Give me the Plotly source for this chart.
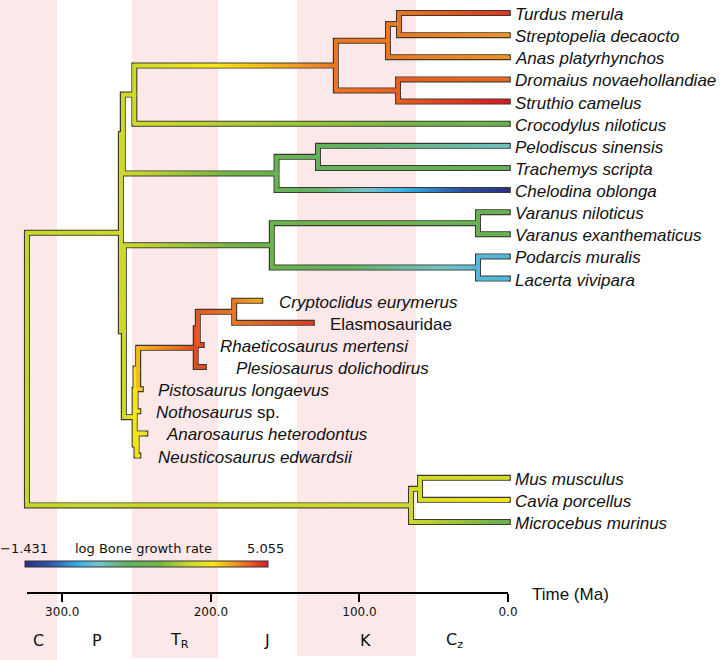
import numpy as np
import plotly.graph_objects as go

# ---------------- data ----------------
tip_names = [
    "Turdus merula", "Streptopelia decaocto", "Anas platyrhynchos",
    "Dromaius novaehollandiae", "Struthio camelus", "Crocodylus niloticus",
    "Pelodiscus sinensis", "Trachemys scripta", "Chelodina oblonga",
    "Varanus niloticus", "Varanus exanthematicus", "Podarcis muralis",
    "Lacerta vivipara", "Cryptoclidus eurymerus", "Elasmosauridae",
    "Rhaeticosaurus mertensi", "Plesiosaurus dolichodirus", "Pistosaurus longaevus",
    "Nothosaurus sp.", "Anarosaurus heterodontus", "Neusticosaurus edwardsii",
    "Mus musculus", "Cavia porcellus", "Microcebus murinus",
]
tip_labels = [
    "<i>Turdus merula</i>", "<i>Streptopelia decaocto</i>", "<i>Anas platyrhynchos</i>",
    "<i>Dromaius novaehollandiae</i>", "<i>Struthio camelus</i>", "<i>Crocodylus niloticus</i>",
    "<i>Pelodiscus sinensis</i>", "<i>Trachemys scripta</i>", "<i>Chelodina oblonga</i>",
    "<i>Varanus niloticus</i>", "<i>Varanus exanthematicus</i>", "<i>Podarcis muralis</i>",
    "<i>Lacerta vivipara</i>", "<i>Cryptoclidus eurymerus</i>", "Elasmosauridae",
    "<i>Rhaeticosaurus mertensi</i>", "<i>Plesiosaurus dolichodirus</i>", "<i>Pistosaurus longaevus</i>",
    "<i>Nothosaurus</i> sp.", "<i>Anarosaurus heterodontus</i>", "<i>Neusticosaurus edwardsii</i>",
    "<i>Mus musculus</i>", "<i>Cavia porcellus</i>", "<i>Microcebus murinus</i>",
]
tip_parent = [
    "TurdusStrep", "TurdusStrep", "Neognathae", "Palaeognathae", "Palaeognathae",
    "Archosauria", "Cryptodira", "Cryptodira", "Testudines", "Varanus", "Varanus",
    "Lacertidae", "Lacertidae", "CE", "CE", "CER", "Plesiosauria", "Pistosauroidea",
    "PistoNotho", "Pachypleurosauria", "Pachypleurosauria", "MusCavia", "MusCavia", "Mammalia",
]
tip_age = [0, 0, 0, 0, 0, 0, 0, 0, 0, 0, 0, 0, 0,
           166.6, 131.9, 206.0, 204.6, 247.0, 248.7, 244.0, 248.7, 0, 0, 0]
tip_rate = [4.85, 4.2, 4.2, 4.5, 5.05, 1.9, 0.6, 1.6, -1.43, 1.8, 1.8, 0.2, 0.2,
            4.05, 4.8, 4.7, 4.7, 3.75, 3.5, 3.45, 3.45, 3.1, 3.55, 2.0]

node_names = [
    "Root", "Sauria", "Archelosauria", "Archosauria", "Aves", "Neognathae",
    "TurdusStrep", "Palaeognathae", "Testudines", "Cryptodira", "Lepidosauromorpha",
    "Squamata", "Varanus", "Lacertidae", "Sauropterygia", "PistoNotho",
    "Pachypleurosauria", "Pistosauroidea", "Plesiosauria", "CER", "CE",
    "Mammalia", "MusCavia",
]
node_parent = [
    None, "Root", "Sauria", "Archelosauria", "Archosauria", "Aves",
    "Neognathae", "Aves", "Archelosauria", "Testudines", "Sauria",
    "Lepidosauromorpha", "Squamata", "Squamata", "Lepidosauromorpha", "Sauropterygia",
    "Sauropterygia", "PistoNotho", "Pistosauroidea", "Plesiosauria", "CER",
    "Root", "Mammalia",
]
node_age = [323.8, 260.6, 259.3, 251.5, 115.9, 80.8, 73.4, 74.0, 155.8, 127.9, 258.6,
            159.0, 20.2, 20.2, 251.3, 250.7, 250.0, 248.9, 210.2, 208.8, 184.3,
            65.3, 59.2]
node_rate = [2.9, 3.0, 3.0, 3.0, 4.4, 4.4, 4.4, 4.55, 1.8, 1.5, 3.0,
             1.9, 1.8, 0.25, 3.5, 3.5, 3.45, 3.9, 4.7, 4.6, 4.4,
             3.0, 3.1]

rate_min, rate_max = -1.431, 5.055

period_names = ["C", "P", "T<sub>R</sub>", "J", "K", "C<sub>z</sub>"]
period_label_age = [316.3, 276.6, 220.8, 162.2, 95.6, 35.7]
shaded_bands = [(360.0, 303.6), (253.1, 195.2), (142.0, 61.9)]

tick_vals = [300, 200, 100, 0]
tick_text = ["300.0", "200.0", "100.0", "0.0"]

# ---------------- geometry helpers ----------------
W, H = 720, 660
K = 1.4857      # px per Ma
X0 = 508.0      # px position of 0 Ma
ROW = 22.13     # px per tip row
Y0 = 13.0       # px of first tip row


def t_at(px):
    return (X0 - px) / K


colorscale = [
    [0.00, "rgb(43,48,135)"],
    [0.10, "rgb(45,85,170)"],
    [0.22, "rgb(55,175,230)"],
    [0.30, "rgb(115,195,205)"],
    [0.42, "rgb(95,178,100)"],
    [0.55, "rgb(112,180,70)"],
    [0.67, "rgb(200,215,45)"],
    [0.77, "rgb(248,230,25)"],
    [0.87, "rgb(242,145,35)"],
    [1.00, "rgb(215,25,35)"],
]

# build tree
age = {}
rate = {}
parent = {}
children = {}
for n, p, a, r in zip(node_names, node_parent, node_age, node_rate):
    age[n], rate[n], parent[n] = a, r, p
    children.setdefault(n, [])
for i, (n, p) in enumerate(zip(tip_names, tip_parent)):
    age[n], rate[n], parent[n] = tip_age[i], tip_rate[i], p
for n, p in parent.items():
    if p is not None:
        children.setdefault(p, []).append(n)

ypos = {n: i for i, n in enumerate(tip_names)}


def get_y(n):
    if n in ypos:
        return ypos[n]
    ys = [get_y(c) for c in children[n]]
    ypos[n] = (min(ys) + max(ys)) / 2.0
    return ypos[n]


get_y("Root")

# underlay (dark outline) and coloured overlay samples
ux, uy = [], []
mx, my, mc = [], [], []
tip_set = set(tip_names)
for n, p in parent.items():
    if p is None:
        continue
    ap, yp, ac, yc = age[p], ypos[p], age[n], ypos[n]
    ext = 2.8 / K if n in tip_set else 0.0
    ux += [ap, ap, ac - ext, None]
    uy += [yp, yc, yc, None]
    # vertical connector, constant colour of parent node
    nv = int(np.ceil(abs(yc - yp) * ROW)) + 1
    for s in np.linspace(yp, yc, nv):
        mx.append(ap); my.append(s); mc.append(rate[p])
    # horizontal branch, colour gradient parent -> child
    nh = int(np.ceil(abs(ap - ac) * K)) + 1
    for f in np.linspace(0, 1, nh):
        mx.append(ap + (ac - ap) * f); my.append(yc)
        mc.append(rate[p] + (rate[n] - rate[p]) * f)

fig = go.Figure()

fig.add_trace(go.Scatter(
    x=ux, y=uy, mode="lines", line=dict(color="#3a3a2e", width=6),
    hoverinfo="skip", showlegend=False))

fig.add_trace(go.Scatter(
    x=mx, y=my, mode="markers", hoverinfo="skip", showlegend=False,
    marker=dict(symbol="square", size=3.5, color=mc, colorscale=colorscale,
                cmin=rate_min, cmax=rate_max, line=dict(width=0),
                showscale=True,
                colorbar=dict(orientation="h", x=25 / W, xanchor="left",
                              len=243 / W, lenmode="fraction",
                              y=1 - 561 / H, yanchor="top",
                              thickness=6, thicknessmode="pixels",
                              outlinewidth=1, outlinecolor="#333333",
                              showticklabels=False, ticks="",
                              xpad=0, ypad=0))))

# time axis trace (invisible) on second axes
fig.add_trace(go.Scatter(x=[300, 0], y=[0, 0], xaxis="x2", yaxis="y2",
                         mode="markers", marker=dict(opacity=0),
                         hoverinfo="skip", showlegend=False))

shapes = []
band_bottom = [1.0, 658 / H, 656 / H]
for (a0, a1), bb in zip(shaded_bands, band_bottom):
    shapes.append(dict(type="rect", xref="x", yref="paper", x0=a0, x1=a1,
                       y0=1 - bb, y1=1, fillcolor="rgb(252,232,232)",
                       line=dict(width=0), layer="below"))

annotations = []
fossil_offset = {13: 17, 14: 16, 15: 16, 16: 30, 17: 15, 18: 15.5, 19: 18.5, 20: 17.5}
for i, lab in enumerate(tip_labels):
    off = fossil_offset.get(i, 5)
    annotations.append(dict(x=tip_age[i], y=i, xref="x", yref="y", text=lab,
                            xanchor="left", yanchor="middle", xshift=off, yshift=-1.5,
                            showarrow=False,
                            font=dict(family="Liberation Sans", size=17, color="#111111")))
for name, a in zip(period_names, period_label_age):
    annotations.append(dict(x=a, y=1 - 640 / H, xref="x", yref="paper", text=name,
                            xanchor="center", yanchor="middle", showarrow=False,
                            font=dict(family="DejaVu Sans", size=16, color="#111111")))
annotations.append(dict(x=530 / W, y=1 - 594 / H, xref="paper", yref="paper",
                        text="Time (Ma)", xanchor="left", yanchor="middle", showarrow=False,
                        font=dict(family="Liberation Sans", size=17, color="#111111")))
for txt, cx in [("\u22121.431", 24.5), ("log Bone growth rate", 143.5), ("5.055", 265.5)]:
    annotations.append(dict(x=cx / W, y=1 - 548 / H, xref="paper", yref="paper",
                            text=txt, xanchor="center", yanchor="middle", showarrow=False,
                            font=dict(family="DejaVu Sans", size=13, color="#111111")))

fig.update_layout(
    width=W, height=H, margin=dict(l=0, r=0, t=0, b=0, pad=0, autoexpand=False),
    paper_bgcolor="white", plot_bgcolor="rgba(0,0,0,0)",
    xaxis=dict(range=[t_at(0), t_at(W)], visible=False, domain=[0, 1]),
    yaxis=dict(range=[(H - Y0) / ROW, -Y0 / ROW], visible=False, domain=[0, 1]),
    xaxis2=dict(domain=[27 / W, 508 / W], range=[t_at(27), 0], anchor="y2",
                showline=True, linewidth=2, linecolor="black", ticks="outside",
                ticklen=8, tickwidth=1.5, tickcolor="black", tickvals=tick_vals,
                ticktext=tick_text, showgrid=False, zeroline=False,
                tickfont=dict(family="DejaVu Sans", size=12, color="#111111")),
    yaxis2=dict(domain=[1 - 592 / H, 1 - 592 / H + 0.01], range=[0, 1],
                visible=False, anchor="x2"),
    shapes=shapes, annotations=annotations, showlegend=False,
)

fig.write_html(
    "out.html",
    config={"displayModeBar": False, "responsive": False},
    post_script=("document.documentElement.style.overflow='hidden';"
                 "document.body.style.overflow='hidden';"
                 "document.body.style.margin='0';document.body.style.padding='0';"),
)
